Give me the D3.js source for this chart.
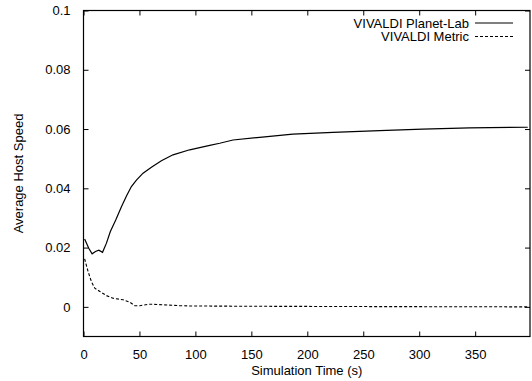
<!DOCTYPE html>
<html>
<head>
<meta charset="utf-8">
<script src="https://cdn.jsdelivr.net/npm/d3@7"></script>
<style>
  body { margin: 0; background: #fff; }
  text { font-family: "Liberation Sans", Arial, sans-serif; font-size: 13px; fill: #000; }
</style>
</head>
<body>
<div id="chart"></div>
<script>
const width = 532;
const height = 381;

// time (s) / average host speed
const planetTime = [1, 4.7, 7.7, 10.7, 13.7, 17, 20.5, 24, 28.8, 33.9, 38.4, 42.8, 47.3, 53.2, 60.7, 69.6, 80, 94.9, 112.8, 121.7, 133.6, 157.4, 187, 222.9, 264.6, 303, 345, 397];
const planetSpeed = [0.0229, 0.0198, 0.0179, 0.0187, 0.0191, 0.0184, 0.0215, 0.0254, 0.0293, 0.0338, 0.0374, 0.0406, 0.0428, 0.0451, 0.0471, 0.0493, 0.0513, 0.0530, 0.0545, 0.0552, 0.0563, 0.0572, 0.0583, 0.0589, 0.0595, 0.0600, 0.0604, 0.0606];

const metricTime = [1, 4.1, 7.1, 10.1, 14.6, 20.5, 26.4, 35.4, 41.3, 45.8, 50.3, 59.2, 71, 86, 95, 150, 250, 397];
const metricSpeed = [0.0162, 0.0119, 0.0085, 0.0063, 0.0052, 0.0038, 0.0029, 0.0024, 0.0016, 0.0004, 0.0004, 0.0009, 0.0007, 0.0004, 0.0003, 0.0002, 0.0001, 0.0000];

const xTicks = [0, 50, 100, 150, 200, 250, 300, 350];
const yTicks = [0, 0.02, 0.04, 0.06, 0.08, 0.1];
const seriesNames = ['VIVALDI Planet-Lab', 'VIVALDI Metric'];

const margin = {left: 83.5, right: 2, top: 10.5, bottom: 44.5};

const x = d3.scaleLinear()
    .domain([0, 399])
    .range([margin.left, width - margin.right]);

const y = d3.scaleLinear()
    .domain([-0.01, 0.1])
    .range([height - margin.bottom, margin.top]);

const svg = d3.select('#chart')
    .append('svg')
    .attr('width', width)
    .attr('height', height);

// ticks on all four sides, pointing in
svg.append('g')
    .attr('transform', `translate(0, ${y(-0.01)})`)
    .call(d3.axisBottom(x).tickValues(xTicks).tickSizeInner(-5).tickSizeOuter(0).tickPadding(13).tickFormat(d3.format('d')));

svg.append('g')
    .attr('transform', `translate(0, ${y(0.1)})`)
    .call(d3.axisTop(x).tickValues(xTicks).tickSizeInner(-5).tickSizeOuter(0).tickFormat(''));

svg.append('g')
    .attr('transform', `translate(${x(0)}, 0)`)
    .call(d3.axisLeft(y).tickValues(yTicks).tickSizeInner(-5).tickSizeOuter(0).tickPadding(13).tickFormat(d => d === 0 ? '0' : String(+d.toFixed(2))));

svg.append('g')
    .attr('transform', `translate(${x(399)}, 0)`)
    .call(d3.axisRight(y).tickValues(yTicks).tickSizeInner(-5).tickSizeOuter(0).tickFormat(''));

svg.selectAll('.domain').remove();
svg.selectAll('.tick line').attr('stroke', '#000');
svg.selectAll('.tick text')
    .attr('font-family', '"Liberation Sans", Arial, sans-serif')
    .attr('font-size', 13);

// frame
svg.append('rect')
    .attr('x', x(0))
    .attr('y', y(0.1))
    .attr('width', x(399) - x(0))
    .attr('height', y(-0.01) - y(0.1))
    .attr('fill', 'none')
    .attr('stroke', '#000')
    .attr('stroke-width', 1.2);

const line = d3.line()
    .x(d => x(d[0]))
    .y(d => y(d[1]));

svg.append('path')
    .datum(d3.zip(planetTime, planetSpeed))
    .attr('d', line)
    .attr('fill', 'none')
    .attr('stroke', '#000')
    .attr('stroke-width', 1.2);

svg.append('path')
    .datum(d3.zip(metricTime, metricSpeed))
    .attr('d', line)
    .attr('fill', 'none')
    .attr('stroke', '#000')
    .attr('stroke-width', 1.1)
    .attr('stroke-dasharray', '3,2');

// legend
const legend = svg.append('g');
seriesNames.forEach((name, i) => {
    const ly = 23 + i * 13.5;
    legend.append('text')
        .attr('x', 469)
        .attr('y', ly)
        .attr('dy', '0.35em')
        .attr('text-anchor', 'end')
        .text(name);
    legend.append('line')
        .attr('x1', 475)
        .attr('x2', 513)
        .attr('y1', ly)
        .attr('y2', ly)
        .attr('stroke', '#000')
        .attr('stroke-width', i === 0 ? 1.2 : 1.1)
        .attr('stroke-dasharray', i === 0 ? null : '3,2');
});

// axis titles
svg.append('text')
    .attr('x', (x(0) + x(399)) / 2)
    .attr('y', 375)
    .attr('text-anchor', 'middle')
    .text('Simulation Time (s)');

svg.append('text')
    .attr('transform', `translate(23, ${(y(0.1) + y(-0.01)) / 2}) rotate(-90)`)
    .attr('text-anchor', 'middle')
    .text('Average Host Speed');
</script>
</body>
</html>
